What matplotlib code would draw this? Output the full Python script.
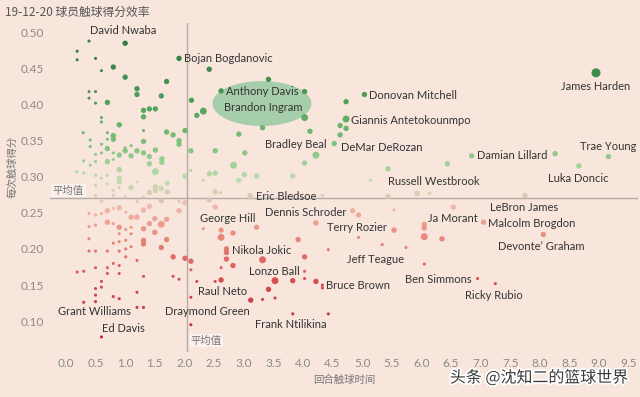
import numpy as np
import matplotlib
matplotlib.use('Agg')
import matplotlib.pyplot as plt
import matplotlib.colors as mcolors
import matplotlib.patheffects as pe
from matplotlib.patches import Ellipse

plt.rcParams['font.family'] = ['Lato', 'Noto Sans CJK SC', 'DejaVu Sans']

# (touch time per possession, points per touch, dot size class)
above_avg = [
    (0.39, 0.488, 1), (1.00, 0.485, 2), (0.19, 0.474, 1), (0.19, 0.462, 1), (0.50, 0.464, 1),
    (1.91, 0.464, 2), (0.80, 0.452, 2), (0.60, 0.447, 1), (1.00, 0.438, 2), (1.70, 0.432, 2),
    (1.20, 0.422, 2), (1.20, 0.414, 2), (0.39, 0.418, 1), (0.50, 0.418, 1), (0.39, 0.409, 1),
    (0.50, 0.402, 1), (0.70, 0.403, 2), (1.61, 0.412, 2), (2.12, 0.406, 2), (1.31, 0.392, 2),
    (1.41, 0.394, 2), (1.51, 0.394, 2), (1.31, 0.383, 2), (0.60, 0.382, 1), (0.60, 0.376, 1),
    (0.90, 0.372, 2), (2.21, 0.385, 2), (2.32, 0.391, 3), (2.62, 0.419, 2), (3.42, 0.435, 2),
    (4.03, 0.418, 2), (4.03, 0.382, 3), (3.32, 0.368, 2), (2.92, 0.359, 2), (4.12, 0.363, 2),
    (2.42, 0.449, 2), (2.01, 0.364, 2), (1.81, 0.358, 2), (1.70, 0.362, 2), (1.91, 0.350, 2),
    (1.91, 0.345, 2), (2.11, 0.336, 2), (2.52, 0.336, 2), (3.02, 0.333, 2), (2.83, 0.316, 3),
    (3.01, 0.303, 2), (3.22, 0.301, 2), (3.83, 0.301, 2), (4.03, 0.319, 2), (4.22, 0.330, 3),
    (2.42, 0.304, 2), (2.52, 0.305, 2), (2.01, 0.301, 2), (2.11, 0.309, 1), (2.32, 0.295, 1),
    (2.92, 0.295, 2), (0.29, 0.361, 1), (0.70, 0.361, 1), (0.80, 0.357, 2), (0.80, 0.352, 2),
    (0.41, 0.351, 1), (0.70, 0.352, 1), (1.31, 0.364, 1), (1.31, 0.349, 2), (0.60, 0.345, 1),
    (0.41, 0.342, 1), (0.50, 0.331, 1), (0.60, 0.333, 1), (0.70, 0.339, 2), (0.80, 0.333, 1),
    (0.90, 0.330, 2), (1.00, 0.336, 2), (1.10, 0.329, 2), (1.20, 0.336, 2), (1.31, 0.333, 2),
    (1.41, 0.328, 2), (1.51, 0.337, 2), (1.10, 0.343, 1), (1.00, 0.340, 1), (0.30, 0.322, 1),
    (0.41, 0.316, 1), (0.50, 0.321, 1), (0.70, 0.321, 2), (0.80, 0.324, 1), (1.41, 0.318, 2),
    (1.62, 0.325, 2), (1.62, 0.320, 2), (1.51, 0.307, 3), (0.90, 0.310, 2), (0.18, 0.307, 1),
    (0.30, 0.305, 1), (0.50, 0.302, 1), (0.60, 0.298, 1), (0.70, 0.302, 1), (0.90, 0.298, 2),
    (0.90, 0.293, 2), (1.20, 0.293, 1), (1.71, 0.291, 2), (4.73, 0.404, 2), (5.04, 0.414, 2),
    (4.73, 0.380, 3), (4.63, 0.371, 2), (4.73, 0.367, 2), (4.63, 0.358, 2), (4.53, 0.346, 2),
    (5.44, 0.311, 2), (5.14, 0.295, 1), (6.44, 0.318, 2), (6.85, 0.329, 2), (8.26, 0.332, 2),
    (9.16, 0.328, 2), (8.66, 0.315, 2), (8.95, 0.444, 4),
]

near_avg = [
    (0.50, 0.288, 1), (0.70, 0.290, 1), (0.80, 0.281, 1), (0.90, 0.285, 1), (1.10, 0.285, 2),
    (1.51, 0.286, 2), (1.51, 0.281, 2), (1.61, 0.284, 2), (1.71, 0.279, 2), (1.41, 0.278, 2),
    (0.80, 0.274, 1), (1.00, 0.272, 1), (1.31, 0.272, 1), (0.50, 0.274, 1), (2.52, 0.279, 2),
    (2.61, 0.278, 1), (3.11, 0.274, 2), (4.33, 0.274, 1), (5.44, 0.273, 2), (5.93, 0.277, 2),
    (6.14, 0.277, 1), (7.75, 0.274, 2), (2.42, 0.268, 2), (3.12, 0.271, 2), (0.60, 0.266, 1),
    (1.20, 0.266, 1), (1.61, 0.267, 2), (1.91, 0.266, 1),
]

below_avg = [
    (4.84, 0.253, 2), (4.94, 0.247, 2), (5.54, 0.254, 1), (6.54, 0.258, 2), (7.05, 0.237, 2),
    (8.06, 0.220, 2), (5.54, 0.226, 2), (6.05, 0.234, 2), (6.05, 0.229, 2), (6.05, 0.217, 3),
    (6.35, 0.214, 2), (4.94, 0.216, 1), (5.34, 0.206, 1), (5.74, 0.202, 1), (4.43, 0.199, 1),
    (6.05, 0.179, 1), (6.95, 0.159, 1), (7.25, 0.152, 1), (4.33, 0.150, 1), (4.33, 0.146, 1),
    (4.43, 0.110, 1), (2.11, 0.183, 2), (2.01, 0.187, 2), (1.81, 0.189, 2), (2.11, 0.171, 1),
    (1.81, 0.162, 1), (1.91, 0.158, 1), (2.21, 0.155, 1), (2.52, 0.155, 1), (2.62, 0.157, 2),
    (2.11, 0.133, 1), (2.11, 0.095, 1), (2.32, 0.228, 1), (2.62, 0.226, 2), (2.62, 0.216, 3),
    (2.82, 0.222, 2), (3.22, 0.230, 2), (2.71, 0.200, 2), (2.71, 0.195, 2), (2.71, 0.186, 2),
    (2.82, 0.177, 2), (2.62, 0.174, 1), (3.32, 0.185, 3), (3.92, 0.213, 2), (4.03, 0.189, 2),
    (4.03, 0.169, 1), (4.03, 0.159, 1), (4.22, 0.155, 2), (3.83, 0.156, 2), (3.53, 0.156, 3),
    (3.42, 0.144, 2), (3.53, 0.132, 1), (3.32, 0.130, 1), (3.12, 0.129, 2), (3.83, 0.110, 1),
    (4.22, 0.236, 2), (2.52, 0.258, 2), (0.39, 0.249, 1), (0.50, 0.247, 1), (0.60, 0.249, 1),
    (0.70, 0.253, 2), (0.80, 0.256, 1), (0.90, 0.257, 2), (1.01, 0.251, 1), (1.10, 0.244, 2),
    (1.20, 0.244, 2), (1.31, 0.254, 2), (1.41, 0.259, 2), (1.50, 0.242, 2), (1.61, 0.234, 3),
    (1.70, 0.241, 2), (1.91, 0.253, 2), (2.01, 0.264, 2), (0.70, 0.237, 2), (0.80, 0.235, 1),
    (0.90, 0.230, 2), (1.01, 0.227, 1), (1.10, 0.230, 1), (1.31, 0.228, 2), (1.41, 0.235, 2),
    (1.50, 0.223, 2), (1.70, 0.213, 2), (0.39, 0.231, 1), (0.50, 0.233, 1), (0.39, 0.214, 1),
    (0.90, 0.221, 1), (1.01, 0.212, 1), (1.10, 0.221, 1), (0.90, 0.210, 1), (0.80, 0.208, 1),
    (1.31, 0.212, 2), (1.31, 0.207, 2), (1.01, 0.200, 1), (1.10, 0.203, 1), (1.61, 0.202, 2),
    (0.39, 0.197, 1), (0.50, 0.197, 1), (0.70, 0.197, 1), (0.90, 0.197, 1), (1.01, 0.189, 1),
    (1.20, 0.184, 1), (0.80, 0.180, 1), (0.90, 0.177, 1), (0.50, 0.174, 1), (0.70, 0.174, 1),
    (0.19, 0.168, 1), (0.30, 0.169, 1), (0.70, 0.166, 1), (0.90, 0.166, 1), (0.60, 0.155, 1),
    (0.60, 0.147, 1), (0.50, 0.145, 1), (1.31, 0.162, 1), (0.80, 0.134, 1), (0.90, 0.131, 1),
    (1.20, 0.140, 1), (0.50, 0.136, 1), (0.50, 0.127, 1), (0.30, 0.126, 1), (1.20, 0.119, 1),
    (1.31, 0.119, 1), (0.60, 0.078, 1),
]

# player labels: (name, x, y, horizontal alignment)
player_labels = [
    ("David Nwaba", 0.96, 0.502, "center"), ("Bojan Bogdanovic", 1.99, 0.464, "left"),
    ("Anthony Davis", 2.70, 0.4186, "left"), ("Brandon Ingram", 3.33, 0.396, "center"),
    ("Donovan Mitchell", 5.12, 0.413, "left"), ("Giannis Antetokounmpo", 4.81, 0.378, "left"),
    ("Bradley Beal", 3.36, 0.345, "left"), ("DeMar DeRozan", 4.65, 0.341, "left"),
    ("Damian Lillard", 6.94, 0.330, "left"), ("James Harden", 8.95, 0.4255, "center"),
    ("Trae Young", 9.16, 0.342, "center"), ("Luka Doncic", 8.65, 0.298, "center"),
    ("Russell Westbrook", 5.44, 0.294, "left"), ("Eric Bledsoe", 3.21, 0.273, "left"),
    ("George Hill", 2.26, 0.242, "left"), ("Dennis Schroder", 3.36, 0.251, "left"),
    ("Terry Rozier", 4.41, 0.230, "left"), ("Ja Morant", 6.11, 0.242, "left"),
    ("LeBron James", 7.16, 0.258, "left"), ("Malcolm Brogdon", 7.13, 0.2355, "left"),
    ("Devonte\u2019 Graham", 7.30, 0.2035, "left"), ("Jeff Teague", 4.75, 0.1855, "left"),
    ("Nikola Jokic", 2.80, 0.198, "left"), ("Lonzo Ball", 3.09, 0.169, "left"),
    ("Bruce Brown", 4.39, 0.149, "left"), ("Ben Simmons", 5.73, 0.158, "left"),
    ("Ricky Rubio", 6.74, 0.1355, "left"), ("Raul Neto", 2.23, 0.141, "left"),
    ("Draymond Green", 1.67, 0.113, "left"), ("Frank Ntilikina", 3.19, 0.095, "left"),
    ("Grant Williams", -0.135, 0.113, "left"), ("Ed Davis", 0.61, 0.0895, "left"),
]

avg_time = 2.04
avg_ppt = 0.27
x_ticks = np.arange(0, 9.51, 0.5)
y_ticks = [0.10, 0.15, 0.20, 0.25, 0.30, 0.35, 0.40, 0.45, 0.50]

bg = '#f8e6dd'
pts = np.array(above_avg + near_avg + below_avg)
xs, ys, sc = pts[:, 0], pts[:, 1], pts[:, 2].astype(int)
size_map = {1: 5, 2: 15, 3: 25, 4: 42}
sizes = [size_map[s] for s in sc]

cmap = mcolors.LinearSegmentedColormap.from_list('rg', [
    (0.0, '#b51f33'), (0.2, '#d4474b'), (0.37, '#ea8879'), (0.46, '#f1b2a3'),
    (0.5, '#dfc6b8'), (0.56, '#bcdeae'), (0.66, '#86c682'), (0.8, '#4fa458'), (1.0, '#2a7a3b')])
norm = mcolors.TwoSlopeNorm(vmin=0.08, vcenter=avg_ppt, vmax=0.47)

fig = plt.figure(figsize=(6.4, 3.97), dpi=100, facecolor=bg)
ax = fig.add_axes([0.078, 0.113, 0.919, 0.829])
ax.set_facecolor(bg)

ax.add_patch(Ellipse((3.31, 0.4015), 1.67, 0.0624, facecolor='#8cc79a', alpha=0.75,
                     edgecolor='none', zorder=1))

ax.axhline(avg_ppt, color='#b3aba6', lw=1, zorder=0)
ax.axvline(avg_time, color='#b3aba6', lw=1, zorder=0)

ax.scatter(xs, ys, s=sizes, c=ys, cmap=cmap, norm=norm, edgecolors='none', alpha=0.95, zorder=2)

for name, lx, ly, ha in player_labels:
    ax.text(lx, ly, name, ha=ha, va='center', fontsize=8, color='#333333', zorder=3)

cjk = ['Noto Sans CJK SC', 'DejaVu Sans']
box = dict(boxstyle='square,pad=0.15', facecolor='#fbf1ec', edgecolor='none')
ax.text(-0.22, avg_ppt + 0.004, '平均值', fontsize=7.5, color='#777777', va='bottom', ha='left',
        family=cjk, bbox=box)
ax.text(avg_time + 0.06, 0.073, '平均值', fontsize=7.5, color='#777777', va='center', ha='left',
        family=cjk, bbox=box)

ax.set_xlim(-0.27, 9.66)
ax.set_ylim(0.057, 0.513)
ax.set_xticks(x_ticks)
ax.set_xticklabels([f'{t:.1f}' for t in x_ticks])
ax.set_yticks(y_ticks)
ax.set_yticklabels([f'{t:.2f}' for t in y_ticks])
ax.tick_params(length=0, labelsize=8.5, colors='#8a8a8a', pad=4)
for s in ax.spines.values():
    s.set_visible(False)

fig.text(0.008, 0.968, '19-12-20 球员触球得分效率', fontsize=8.5, color='#555555',
         va='center', ha='left', family=cjk)
fig.text(0.019, 0.58, '每次触球得分', fontsize=7.5, color='#777777', rotation=90,
         va='center', ha='center', family=cjk)
fig.text(0.538, 0.043, '回合触球时间', fontsize=7.5, color='#777777',
         va='center', ha='center', family=cjk)
fig.text(0.982, 0.048, '头条 @沈知二的篮球世界', fontsize=11.5, color='#3a3a3a', va='center',
         ha='right', family=cjk,
         path_effects=[pe.withStroke(linewidth=2.5, foreground='white')])

fig.savefig('out.png', dpi=100, facecolor=bg)
